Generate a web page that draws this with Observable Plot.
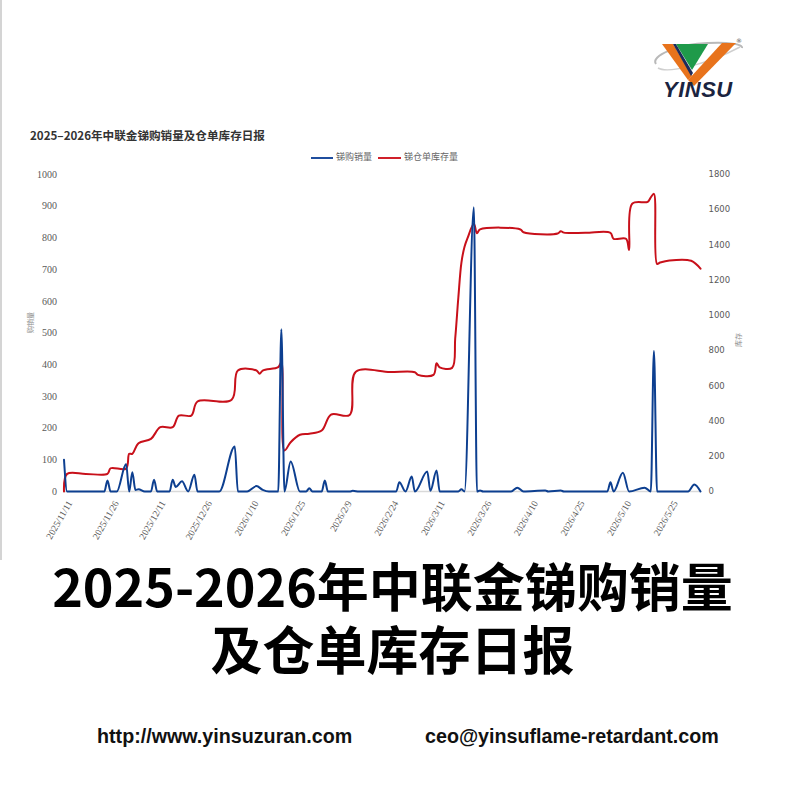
<!DOCTYPE html>
<html><head><meta charset="utf-8">
<script src="https://cdn.jsdelivr.net/npm/d3@7"></script>
<script src="https://cdn.jsdelivr.net/npm/@observablehq/plot@0.6"></script>
<style>
html,body{margin:0;padding:0;background:#fff;}
#page{position:relative;width:785px;height:786px;overflow:hidden;background:#fff;font-family:"Noto Sans CJK SC",sans-serif;}
#edge{position:absolute;left:0;top:0;width:2px;height:560px;background:#d4d4d4;}
#logo{position:absolute;left:648px;top:34px;}
#ctitle{position:absolute;left:30px;top:127px;font-weight:bold;font-size:11.6px;color:#333;white-space:nowrap;font-family:"Noto Sans CJK SC",sans-serif;}
.lg-line{position:absolute;height:2px;top:157px;}
.lg-text{position:absolute;top:150px;font-size:9px;color:#666;white-space:nowrap;}
#chart{position:absolute;left:0;top:160px;}
.big{position:absolute;left:0;width:785px;text-align:center;font-weight:bold;font-size:52px;line-height:63px;color:#000;white-space:nowrap;font-family:"Noto Sans CJK SC",sans-serif;}
.url{position:absolute;top:725px;font-family:"Liberation Sans",Arial,sans-serif;font-weight:bold;font-size:19.7px;color:#111;white-space:nowrap;}
</style></head><body>
<div id="page">
  <div id="edge"></div>
  <svg id="logo" width="100" height="70" viewBox="0 0 100 70">
    <path d="M8,30 C2,22 30,10 60,9 C80,8 95,10 94,14" fill="none" stroke="#b9b9b9" stroke-width="2"/>
    <path d="M10,34 C20,40 60,30 92,13" fill="none" stroke="#cfcfcf" stroke-width="1.5"/>
    <polygon points="14,10 25,10 44,42 40,46" fill="#e8731c"/>
    <polygon points="25,10 28,10 45,39 43,42" fill="#1d2b5c"/>
    <polygon points="28,10 60,10 44,36" fill="#1f9a4a"/>
    <polygon points="40,46 74,9 88,9 46,52" fill="#e8731c"/>
    <text x="88" y="9" font-size="6" fill="#444" font-family="DejaVu Sans">®</text>
    <text x="15" y="63" font-size="22" font-weight="bold" font-style="italic" fill="#1b2440" font-family="Liberation Sans, Arial" letter-spacing="0.5">YINSU</text>
  </svg>
  <div id="ctitle">2025–2026年中联金锑购销量及仓单库存日报</div>
  <div class="lg-line" style="left:311px;width:22px;background:#1f4e9e"></div>
  <div class="lg-text" style="left:336px">锑购销量</div>
  <div class="lg-line" style="left:378px;width:23px;background:#d0202a"></div>
  <div class="lg-text" style="left:404px">锑仓单库存量</div>
  <div id="chart"></div>
  <div class="big" style="top:553px">2025-2026年中联金锑购销量<br>及仓单库存日报</div>
  <div class="url" style="left:97px">http://www.yinsuzuran.com</div>
  <div class="url" style="left:425px">ceo@yinsuflame-retardant.com</div>
</div>
<script>
// 锑购销量 (left axis)
const salesDates = ["2025-11-11","2025-11-12","2025-11-24","2025-11-25","2025-11-26","2025-11-28","2025-12-01","2025-12-02","2025-12-03","2025-12-04","2025-12-05","2025-12-07","2025-12-09","2025-12-10","2025-12-11","2025-12-15","2025-12-16","2025-12-17","2025-12-19","2025-12-21","2025-12-23","2025-12-24","2025-12-31","2026-01-05","2026-01-06","2026-01-09","2026-01-12","2026-01-14","2026-01-16","2026-01-19","2026-01-20","2026-01-21","2026-01-23","2026-01-26","2026-01-28","2026-01-29","2026-01-30","2026-02-02","2026-02-03","2026-02-04","2026-02-11","2026-02-12","2026-02-14","2026-02-26","2026-02-27","2026-03-01","2026-03-03","2026-03-04","2026-03-08","2026-03-09","2026-03-11","2026-03-12","2026-03-18","2026-03-19","2026-03-20","2026-03-23","2026-03-24","2026-03-25","2026-03-26","2026-04-04","2026-04-06","2026-04-08","2026-04-15","2026-04-16","2026-04-20","2026-04-21","2026-05-05","2026-05-06","2026-05-07","2026-05-10","2026-05-12","2026-05-17","2026-05-19","2026-05-20","2026-05-21","2026-05-31","2026-06-02","2026-06-04"];
const salesValues = [100,0,0,35,0,0,87,0,61,5,7,0,0,37,0,0,37,14,32,0,53,0,0,142,0,0,17,5,0,0,512,0,95,0,0,10,0,0,35,0,0,2,0,0,29,0,47,0,63,2,66,0,0,7,0,897,0,3,0,0,12,0,3,0,3,0,0,29,0,59,0,12,0,443,0,0,22,0];
// 锑仓单库存量 (right axis)
const stockDates = ["2025-11-11","2025-11-12","2025-11-18","2025-11-25","2025-11-26","2025-12-01","2025-12-02","2025-12-03","2025-12-05","2025-12-09","2025-12-12","2025-12-16","2025-12-18","2025-12-22","2025-12-24","2026-01-04","2026-01-06","2026-01-12","2026-01-13","2026-01-14","2026-01-19","2026-01-20","2026-01-21","2026-01-23","2026-01-26","2026-01-29","2026-02-02","2026-02-05","2026-02-11","2026-02-13","2026-02-24","2026-03-04","2026-03-05","2026-03-10","2026-03-11","2026-03-12","2026-03-16","2026-03-17","2026-03-18","2026-03-19","2026-03-20","2026-03-21","2026-03-23","2026-03-24","2026-03-25","2026-04-07","2026-04-08","2026-04-19","2026-04-20","2026-04-21","2026-04-28","2026-05-06","2026-05-07","2026-05-11","2026-05-12","2026-05-13","2026-05-18","2026-05-19","2026-05-20","2026-05-21","2026-05-22","2026-05-25","2026-06-01","2026-06-04"];
const stockValues = [0,100,100,100,132,130,214,214,274,299,365,365,431,431,511,521,687,687,668,687,706,734,233,280,322,328,346,437,435,680,678,677,662,662,728,705,702,870,1100,1300,1390,1440,1520,1467,1488,1488,1472,1465,1478,1470,1469,1469,1435,1435,1372,1634,1645,1670,1690,1293,1300,1312,1310,1265];
const leftTicks = [0,100,200,300,400,500,600,700,800,900,1000];
const rightTicks = [0,200,400,600,800,1000,1200,1400,1600,1800];
const xTickLabels = ["2025/11/11","2025/11/26","2025/12/11","2025/12/26","2026/1/10","2026/1/25","2026/2/9","2026/2/24","2026/3/11","2026/3/26","2026/4/10","2026/4/25","2026/5/10","2026/5/25"];
const leftTitle = "购销量";
const rightTitle = "库存";

const parse = d3.utcParse("%Y-%m-%d");
const parseTick = d3.utcParse("%Y/%m/%d");
const sales = salesDates.map((d, i) => ({date: parse(d), value: salesValues[i]}));
const stock = stockDates.map((d, i) => ({date: parse(d), value: stockValues[i]}));
const tickDates = xTickLabels.map(parseTick);
const k = 1000 / 1800;

const chart = Plot.plot({
  width: 785, height: 400,
  marginLeft: 63.5, marginRight: 85, marginTop: 14, marginBottom: 69,
  x: {type: "utc", domain: [parse("2025-11-11"), parse("2026-06-04")]},
  y: {domain: [0, 1000]},
  style: {background: "transparent", overflow: "visible"},
  marks: [
    Plot.ruleY([0], {stroke: "#d9d9d9", strokeWidth: 1.3}),
    Plot.axisX(tickDates, {
      tickSize: 0, tickPadding: 6, tickRotate: -60, fontSize: 9.5, dx: 6, dy: 4,
      fontFamily: "Liberation Serif, serif", fill: "#595959", label: null,
      tickFormat: d => xTickLabels[tickDates.findIndex(t => +t === +d)]
    }),
    Plot.axisY(leftTicks, {anchor: "left", tickSize: 0, tickPadding: 7, fontSize: 10,
      fontFamily: "Liberation Serif, serif", fill: "#595959", label: null,
      tickFormat: d => String(d)}),
    Plot.axisY(rightTicks.map(v => v * k), {anchor: "right", tickSize: 0, tickPadding: 8, fontSize: 8.5,
      fontFamily: "DejaVu Sans, sans-serif", fill: "#595959", label: null,
      tickFormat: d => String(Math.round(d / k))}),
    Plot.text([leftTitle], {frameAnchor: "left", dx: -33, rotate: -90, fontSize: 7, fill: "#8a8a8a",
      fontFamily: "Noto Sans CJK SC"}),
    Plot.text([rightTitle], {frameAnchor: "right", dx: 38, rotate: -90, fontSize: 7, fill: "#8a8a8a",
      fontFamily: "Noto Sans CJK SC"}),
    Plot.line(stock, {x: "date", y: d => d.value * k, stroke: "#c8101a", strokeWidth: 2, curve: "catmull-rom"}),
    Plot.line(sales, {x: "date", y: "value", stroke: "#0d3f90", strokeWidth: 2, curve: "monotone-x"})
  ]
});
document.getElementById("chart").appendChild(chart);
</script>
</body></html>
